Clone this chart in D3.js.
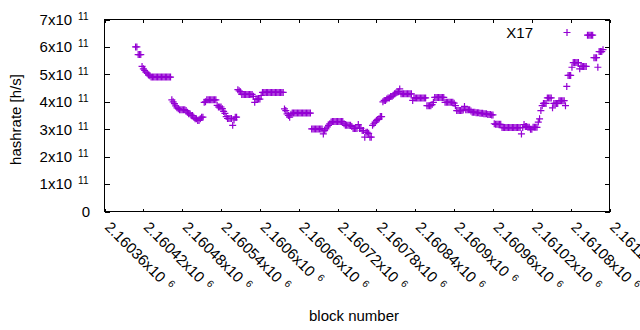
<!DOCTYPE html>
<html>
<head>
<meta charset="utf-8">
<script src="https://cdn.jsdelivr.net/npm/d3@7"></script>
<style>
  body { margin: 0; background: #fff; }
  svg { display: block; font-family: "Liberation Sans", Arial, sans-serif; }
</style>
</head>
<body>
<div id="chart"></div>
<script>
// blocks are sampled every 2nd block starting at firstBlock
const firstBlock = 2160408;
const blockStep = 2;
// hashrate in units of 1e11 h/s
const hashrate = [
  6.0, 6.0, 5.72, 5.72, 5.72, 5.29, 5.2, 5.14, 5.08, 5.04, 4.98, 4.95,
  4.9, 4.9, 4.9, 4.9, 4.9, 4.9, 4.9, 4.9, 4.9, 4.9, 4.9, 4.9, 4.9, 4.9, 4.9, 4.9,
  4.07, 4.0, 3.93, 3.85, 3.78, 3.75, 3.71, 3.71, 3.71, 3.71, 3.71,
  3.68, 3.62, 3.56, 3.56, 3.5, 3.5, 3.44, 3.38, 3.38, 3.32, 3.32, 3.38, 3.44, 3.44, 3.98, 4.0,
  4.07, 4.07, 4.07, 4.07, 4.07, 4.07, 4.07, 4.07,
  3.87, 3.81, 3.81, 3.81, 3.75, 3.65, 3.58, 3.46, 3.39, 3.39, 3.39, 3.39, 3.14, 3.34, 3.44, 3.44,
  4.44, 4.4, 4.37, 4.27, 4.27, 4.27, 4.27, 4.27, 4.27, 4.27, 4.27, 4.27,
  4.2, 3.98, 4.1, 4.1, 4.1, 4.1, 4.23,
  4.34, 4.34, 4.34, 4.34, 4.34, 4.34, 4.34, 4.34, 4.34, 4.34, 4.34, 4.34, 4.34, 4.34, 4.34, 4.34, 4.34,
  3.74, 3.68, 3.56, 3.5, 3.44, 3.55,
  3.59, 3.59, 3.59, 3.59, 3.59, 3.59, 3.59, 3.59, 3.59, 3.59, 3.59, 3.59, 3.59, 3.59, 3.59,
  3.01, 3.01, 3.01, 3.01, 3.01, 3.01, 3.01, 3.01, 3.01,
  2.83, 2.95, 3.01, 3.08, 3.14, 3.2, 3.26,
  3.28, 3.28, 3.28, 3.28, 3.28, 3.28, 3.28, 3.28, 3.28,
  3.2, 3.14, 3.14, 3.14, 3.14, 3.14, 3.1, 3.03, 3.03, 3.03, 3.03, 3.17, 3.03, 3.03,
  2.95, 2.95, 2.71, 2.89, 2.89, 2.85, 2.71, 2.71,
  3.14, 3.2, 3.26, 3.32, 3.35, 3.38, 3.46, 3.46,
  4.0, 4.05, 4.05, 4.1, 4.14, 4.14, 4.19, 4.19, 4.24, 4.29, 4.32, 4.35, 4.37, 4.47,
  4.29, 4.29, 4.29, 4.29, 4.29, 4.29, 4.29, 4.29, 4.29, 4.05,
  4.14, 4.14, 4.14, 4.14, 4.14, 4.14, 4.14, 4.14, 4.14, 4.14,
  3.86, 3.86, 3.86, 3.86, 3.9, 3.98,
  4.16, 4.16, 4.16, 4.16, 4.16, 4.16, 4.16, 4.16,
  3.98, 3.98, 3.98, 3.98, 3.98, 3.98, 3.98, 3.95, 3.86,
  3.68, 3.68, 3.68, 3.68, 3.68, 3.7, 3.83, 3.71, 3.71, 3.71, 3.71, 3.66,
  3.62, 3.62, 3.62, 3.6, 3.6, 3.6, 3.58, 3.58, 3.58, 3.56, 3.56, 3.56, 3.54, 3.54, 3.54, 3.52, 3.52,
  3.2, 3.18, 3.18, 3.18, 3.18, 3.18,
  3.06, 3.06, 3.06, 3.06, 3.06, 3.06, 3.06, 3.06, 3.06, 3.06, 3.06, 3.06, 3.06, 3.06, 3.06,
  2.83, 3.06, 3.17,
  3.1, 3.1, 3.07, 3.07, 3.0, 3.0, 3.07, 3.07, 3.07, 3.07,
  3.26, 3.38, 3.68, 3.86, 3.94, 3.94, 3.94, 4.14, 4.14, 4.14, 4.14, 3.78,
  3.94, 3.94, 3.94, 3.94, 4.04, 4.04, 4.04, 4.04, 4.04, 3.86, 4.56,
  4.96, 4.96, 4.96, 5.26, 5.43, 5.43, 5.43, 5.43, 5.43, 5.2,
  5.29, 5.29, 5.29, 5.29, 5.29, 6.43, 6.43, 6.43, 6.43, 6.43,
  5.61, 5.61, 5.61, 5.26, 5.83, 5.83, 5.83, 5.9
];
const hashrateUnit = 1e11;
const seriesName = "X17";

const xTicks = [2160360, 2160420, 2160480, 2160540, 2160600, 2160660, 2160720,
  2160780, 2160840, 2160900, 2160960, 2161020, 2161080, 2161140];
const yTicks = [0, 1e11, 2e11, 3e11, 4e11, 5e11, 6e11, 7e11];

const width = 640, height = 330;
const color = "#9400d3";
const fontSize = 15, supSize = 10;

const points = hashrate.map((h, i) => ({block: firstBlock + i * blockStep, rate: h * hashrateUnit}));

const x = d3.scaleLinear().domain([2160360, 2161140]).range([104.5, 609.5]);
const y = d3.scaleLinear().domain([0, 7e11]).range([211.5, 19.5]);

const svg = d3.select("#chart").append("svg")
  .attr("width", width)
  .attr("height", height);
svg.append("rect").attr("width", width).attr("height", height).attr("fill", "#fff");

// mantissa of a value for a given power of ten, gnuplot style
function sci(v, p){
  let m = v / Math.pow(10, p);
  return String(+m.toPrecision(6));
}

// left axis with labels
let gy = svg.append("g")
  .attr("transform", `translate(${x.range()[0]},0)`)
  .call(d3.axisLeft(y).tickValues(yTicks).tickSizeInner(-5).tickSizeOuter(0).tickFormat("").tickPadding(16));
gy.select(".domain").remove();
gy.selectAll(".tick line").attr("stroke", "#000").attr("shape-rendering", "crispEdges");
gy.selectAll(".tick text")
  .attr("font-size", fontSize)
  .attr("font-family", null)
  .attr("fill", "#000")
  .each(function(d){
    let t = d3.select(this);
    if(d === 0){
      t.attr("x", -14.5).text("0");
      return;
    }
    t.append("tspan").text(sci(d, 11) + "x10");
    t.append("tspan").attr("dx", 6).attr("dy", -5).attr("font-size", supSize).text("11");
  });

// right mirror ticks
let gyr = svg.append("g")
  .attr("transform", `translate(${x.range()[1]},0)`)
  .call(d3.axisRight(y).tickValues(yTicks).tickSizeInner(-5).tickSizeOuter(0).tickFormat(""));
gyr.select(".domain").remove();
gyr.selectAll(".tick text").remove();
gyr.selectAll(".tick line").attr("stroke", "#000").attr("shape-rendering", "crispEdges");

// bottom axis with rotated labels
let gx = svg.append("g")
  .attr("transform", `translate(0,${y.range()[0]})`)
  .call(d3.axisBottom(x).tickValues(xTicks).tickSizeInner(-3).tickSizeOuter(0).tickFormat(""));
gx.select(".domain").remove();
gx.selectAll(".tick line").attr("stroke", "#000").attr("shape-rendering", "crispEdges");
gx.selectAll(".tick text")
  .attr("x", 0).attr("y", 0).attr("dy", null)
  .attr("transform", "translate(-1,16.5) rotate(45)")
  .attr("text-anchor", "start")
  .attr("font-size", fontSize)
  .attr("font-family", null)
  .attr("fill", "#000")
  .each(function(d){
    let t = d3.select(this);
    t.append("tspan").text(sci(d, 6) + "x10");
    t.append("tspan").attr("dx", 6).attr("dy", -5).attr("font-size", supSize).text("6");
  });

// top mirror ticks
let gxt = svg.append("g")
  .attr("transform", `translate(0,${y.range()[1]})`)
  .call(d3.axisTop(x).tickValues(xTicks).tickSizeInner(-3).tickSizeOuter(0).tickFormat(""));
gxt.select(".domain").remove();
gxt.selectAll(".tick text").remove();
gxt.selectAll(".tick line").attr("stroke", "#000").attr("shape-rendering", "crispEdges");

// border
svg.append("rect")
  .attr("x", x.range()[0]).attr("y", y.range()[1])
  .attr("width", x.range()[1] - x.range()[0])
  .attr("height", y.range()[0] - y.range()[1])
  .attr("fill", "none").attr("stroke", "#000").attr("shape-rendering", "crispEdges");

// points as "+" marks
const ps = 3.5;
svg.append("g")
  .selectAll("path")
  .data(points)
  .join("path")
  .attr("d", d => `M${x(d.block) - ps},${y(d.rate)}h${2 * ps}M${x(d.block)},${y(d.rate) - ps}v${2 * ps}`)
  .attr("stroke", color)
  .attr("stroke-width", 1.2)
  .attr("fill", "none");

// key
svg.append("text")
  .attr("x", 533).attr("y", 37.5)
  .attr("text-anchor", "end")
  .attr("font-size", fontSize)
  .text(seriesName);
svg.append("path")
  .attr("d", `M${567 - ps},32.5h${2 * ps}M567,${32.5 - ps}v${2 * ps}`)
  .attr("stroke", color)
  .attr("stroke-width", 1.2);

// axis titles
svg.append("text")
  .attr("transform", "translate(21,119.5) rotate(-90)")
  .attr("text-anchor", "middle")
  .attr("font-size", fontSize)
  .text("hashrate [h/s]");
svg.append("text")
  .attr("x", 354).attr("y", 321)
  .attr("text-anchor", "middle")
  .attr("font-size", fontSize)
  .text("block number");
</script>
</body>
</html>
